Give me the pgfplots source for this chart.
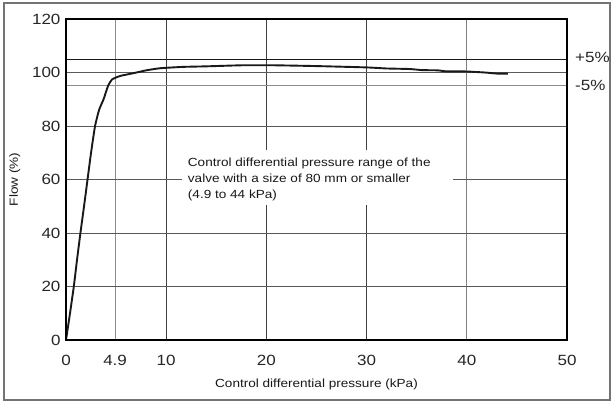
\documentclass[border=0pt]{standalone}
\usepackage{pgfplots}
\pgfplotsset{compat=1.18}
\usepackage{fontspec}
\setmainfont{Liberation Sans}[FakeStretch=1.15]
\begin{document}
\begin{tikzpicture}[x=1pt,y=1pt]
\useasboundingbox (0,0) rectangle (612,403);
\draw[black!55, line width=1.6pt] (4,3) rectangle (610,400);
\begin{axis}[
  at={(66pt,63pt)}, anchor=south west,
  scale only axis, width=501pt, height=321pt,
  xmin=0, xmax=50, ymin=0, ymax=120,
  xtick={0,4.9,10,20,30,40,50},
  xticklabels={0,4.9,10,20,30,40,50},
  ytick={0,20,40,60,80,100,120},
  major tick length=0pt,
  /pgf/number format/assume math mode=true,
  tick label style={font=\fontsize{14.8}{16}\selectfont, text=black!85},
  xticklabel style={yshift=-12pt},
  yticklabel style={xshift=-2pt},
  xlabel={Control differential pressure (kPa)},
  ylabel={Flow (\%)},
  label style={font=\fontsize{11.8}{13}\selectfont, text=black!90},
  xlabel style={yshift=-6pt},
  ylabel style={yshift=5pt},
  axis line style={black, line width=1.1pt},
  clip=false,
  axis on top,
]
% grid lines
\draw[black!45, line width=0.9pt] (axis cs:4.9,0) -- (axis cs:4.9,120);
\draw[black!75, line width=0.9pt] (axis cs:10,0) -- (axis cs:10,120);
\draw[black!75, line width=0.9pt] (axis cs:20,0) -- (axis cs:20,120);
\draw[black!75, line width=0.9pt] (axis cs:30,0) -- (axis cs:30,120);
\draw[black!50, line width=0.9pt] (axis cs:40,0) -- (axis cs:40,120);
\draw[black!65, line width=0.9pt] (axis cs:0,20) -- (axis cs:50,20);
\draw[black!65, line width=0.9pt] (axis cs:0,40) -- (axis cs:50,40);
\draw[black!65, line width=0.9pt] (axis cs:0,60) -- (axis cs:50,60);
\draw[black!65, line width=0.9pt] (axis cs:0,80) -- (axis cs:50,80);
\draw[black!65, line width=0.9pt] (axis cs:0,100) -- (axis cs:50,100);
\draw[black!90, line width=0.9pt] (axis cs:0,105) -- (axis cs:50,105);
\draw[black!45, line width=0.9pt] (axis cs:0,95) -- (axis cs:50,95);
% text box
\fill[white] (axis cs:11.6,50.5) rectangle (axis cs:38.6,71.0);
\node[anchor=north west, align=left, font=\fontsize{11.8}{16.3}\selectfont, inner sep=0pt, text=black!90]
  at (axis cs:12.15,68.3) {Control differential pressure range of the\\valve with a size of 80 mm or smaller\\(4.9 to 44 kPa)};
\node[anchor=west, font=\fontsize{14.8}{16}\selectfont, inner sep=0pt, text=black!85] at (axis cs:50.8,105.8) {+5\%};
\node[anchor=west, font=\fontsize{14.8}{16}\selectfont, inner sep=0pt, text=black!85] at (axis cs:50.8,95.0) {-5\%};
\addplot[black!90, line width=1.9pt, smooth, tension=0.3] coordinates {
(0,0) (0.4,10) (0.78,20) (1.1,30) (1.44,40) (1.8,50) (2.15,60) (2.5,70) (2.9,80) (3.3,86) (3.75,90) (4.2,95) (4.6,97.4) (5.4,98.7) (6.8,99.8) (8.0,100.8) (9.4,101.6) (11.7,102.1) (14,102.3) (17.6,102.7) (20.7,102.7) (25,102.4) (30,101.9) (32,101.5) (34.3,101.3) (35.5,100.9) (37.1,100.8) (38,100.4) (39.8,100.4) (41.8,100.0) (43,99.6) (44.1,99.6)
};
\end{axis}
\end{tikzpicture}
\end{document}
